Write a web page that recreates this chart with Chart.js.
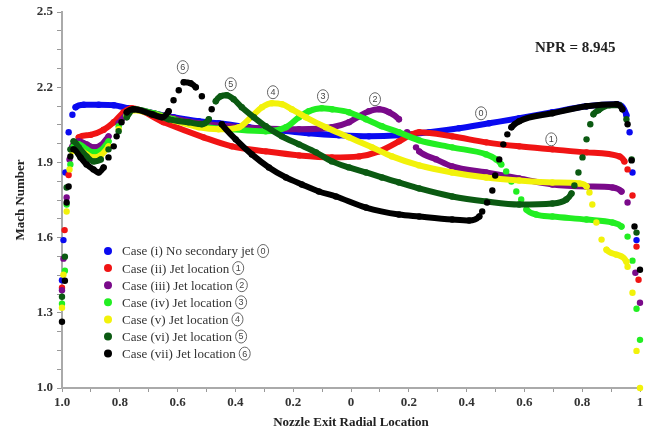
<!DOCTYPE html>
<html>
<head>
<meta charset="utf-8">
<script src="https://cdn.jsdelivr.net/npm/chart.js@4.4.0/dist/chart.umd.min.js"></script>
<style>
  html, body { margin: 0; padding: 0; background: #fff; }
  #wrap { position: relative; width: 651px; height: 430px; }
</style>
</head>
<body>
<div id="wrap"><canvas id="chart"></canvas></div>
<script>
// Series: [radial location, Mach number]
// left half of the nozzle is negative x, labelled by its absolute value
const caseI = [[-1.0,1.43],[-0.995,1.59],[-0.988,1.86],[-0.977,2.02],[-0.964,2.09],[-0.953,2.12],[-0.925,2.13],[-0.873,2.13],[-0.821,2.128],[-0.77,2.116],[-0.70,2.10],[-0.614,2.08],[-0.527,2.064],[-0.458,2.056],[-0.354,2.04],[-0.25,2.028],[-0.146,2.016],[-0.042,2.008],[0.062,2.004],[0.166,2.008],[0.27,2.02],[0.374,2.036],[0.478,2.056],[0.582,2.076],[0.697,2.10],[0.815,2.124],[0.919,2.132],[0.953,2.088],[0.964,2.02],[0.974,1.86],[0.988,1.59]];
const caseII = [[-1.0,1.40],[-0.991,1.63],[-0.977,1.85],[-0.96,1.97],[-0.942,2.0],[-0.901,2.01],[-0.856,2.03],[-0.821,2.06],[-0.787,2.10],[-0.759,2.116],[-0.648,2.06],[-0.51,2.0],[-0.412,1.964],[-0.295,1.944],[-0.18,1.928],[-0.066,1.92],[0.028,1.924],[0.097,1.944],[0.166,1.984],[0.211,2.012],[0.236,2.02],[0.35,2.004],[0.468,1.98],[0.582,1.964],[0.697,1.952],[0.815,1.94],[0.929,1.924],[0.946,1.904],[0.957,1.872],[0.974,1.768],[0.988,1.564],[0.995,1.432]];
const caseIII = [[-1.0,1.39],[-0.995,1.516],[-0.984,1.76],[-0.974,1.912],[-0.964,1.964],[-0.942,1.984],[-0.915,1.972],[-0.891,1.96],[-0.866,1.968],[-0.839,2.004],[-0.804,2.056],[-0.776,2.092],[-0.752,2.112],[-0.683,2.096],[-0.614,2.076],[-0.527,2.056],[-0.423,2.044],[-0.319,2.036],[-0.18,2.032],[-0.066,2.04],[-0.007,2.06],[0.028,2.084],[0.062,2.104],[0.097,2.112],[0.132,2.10],[0.166,2.072],[0.194,2.02],[0.225,1.96],[0.236,1.944],[0.295,1.912],[0.35,1.884],[0.468,1.86],[0.582,1.836],[0.697,1.812],[0.815,1.804],[0.905,1.80],[0.936,1.784],[0.957,1.74],[0.984,1.46],[1.0,1.34]];
const caseIV = [[-1.0,1.336],[-0.99,1.468],[-0.984,1.732],[-0.971,1.892],[-0.96,1.964],[-0.942,1.972],[-0.915,1.952],[-0.891,1.94],[-0.866,1.948],[-0.839,1.984],[-0.804,2.044],[-0.776,2.088],[-0.752,2.112],[-0.683,2.096],[-0.614,2.072],[-0.527,2.044],[-0.412,2.032],[-0.295,2.024],[-0.225,2.04],[-0.18,2.08],[-0.146,2.104],[-0.101,2.116],[-0.066,2.112],[-0.007,2.10],[0.052,2.072],[0.107,2.044],[0.166,2.02],[0.236,1.988],[0.35,1.96],[0.468,1.932],[0.503,1.912],[0.52,1.892],[0.537,1.864],[0.555,1.824],[0.572,1.784],[0.589,1.752],[0.607,1.712],[0.641,1.692],[0.697,1.684],[0.815,1.672],[0.905,1.66],[0.936,1.644],[0.957,1.604],[0.974,1.508],[0.988,1.316],[1.0,1.192]];
const caseV = [[-1.0,1.32],[-0.995,1.452],[-0.984,1.704],[-0.974,1.872],[-0.964,1.944],[-0.942,1.952],[-0.915,1.932],[-0.891,1.92],[-0.866,1.928],[-0.839,1.964],[-0.804,2.032],[-0.776,2.084],[-0.752,2.108],[-0.683,2.092],[-0.614,2.068],[-0.527,2.04],[-0.458,2.032],[-0.388,2.04],[-0.343,2.084],[-0.308,2.12],[-0.274,2.136],[-0.239,2.132],[-0.205,2.112],[-0.156,2.08],[-0.087,2.04],[-0.007,2.0],[0.073,1.96],[0.142,1.924],[0.236,1.888],[0.35,1.86],[0.468,1.84],[0.582,1.828],[0.697,1.82],[0.79,1.816],[0.815,1.804],[0.825,1.78],[0.835,1.732],[0.849,1.66],[0.867,1.592],[0.884,1.552],[0.919,1.532],[0.953,1.504],[0.957,1.484],[0.974,1.38],[0.988,1.148],[1.0,1.0]];
const caseVI = [[-1.0,1.364],[-0.99,1.524],[-0.984,1.80],[-0.971,1.952],[-0.96,1.984],[-0.942,1.96],[-0.915,1.924],[-0.891,1.904],[-0.866,1.912],[-0.839,1.952],[-0.804,2.024],[-0.776,2.08],[-0.752,2.112],[-0.683,2.092],[-0.631,2.072],[-0.562,2.06],[-0.516,2.052],[-0.492,2.072],[-0.468,2.144],[-0.451,2.164],[-0.43,2.168],[-0.406,2.152],[-0.378,2.12],[-0.336,2.08],[-0.295,2.044],[-0.239,2.004],[-0.18,1.972],[-0.121,1.94],[-0.066,1.904],[-0.007,1.88],[0.052,1.86],[0.107,1.84],[0.166,1.82],[0.236,1.796],[0.35,1.764],[0.468,1.744],[0.582,1.732],[0.697,1.736],[0.745,1.752],[0.763,1.776],[0.773,1.808],[0.787,1.86],[0.801,1.92],[0.815,1.992],[0.828,2.052],[0.839,2.092],[0.856,2.108],[0.894,2.128],[0.929,2.128],[0.953,2.072],[0.971,1.912],[0.988,1.62]];
const caseVII = [[-1.0,1.264],[-0.99,1.428],[-0.984,1.74],[-0.977,1.804],[-0.971,1.924],[-0.96,1.952],[-0.936,1.92],[-0.915,1.892],[-0.891,1.872],[-0.873,1.86],[-0.856,1.88],[-0.839,1.92],[-0.821,1.964],[-0.811,2.004],[-0.794,2.06],[-0.776,2.10],[-0.752,2.112],[-0.69,2.092],[-0.655,2.08],[-0.631,2.104],[-0.614,2.148],[-0.596,2.188],[-0.579,2.22],[-0.555,2.216],[-0.537,2.20],[-0.516,2.164],[-0.482,2.112],[-0.447,2.052],[-0.399,1.992],[-0.343,1.932],[-0.284,1.88],[-0.225,1.84],[-0.17,1.812],[-0.111,1.784],[-0.052,1.764],[0.052,1.72],[0.166,1.692],[0.236,1.684],[0.35,1.672],[0.409,1.668],[0.444,1.684],[0.454,1.704],[0.471,1.74],[0.489,1.788],[0.499,1.848],[0.513,1.912],[0.527,1.972],[0.541,2.012],[0.555,2.04],[0.582,2.064],[0.697,2.096],[0.815,2.124],[0.919,2.132],[0.939,2.112],[0.957,2.052],[0.971,1.908],[0.981,1.644],[1.0,1.472]];

const seriesData = [caseI, caseII, caseIII, caseIV, caseV, caseVI, caseVII];
const seriesLabels = ['Case (i) No secondary jet', 'Case (ii) Jet location', 'Case (iii) Jet location',
  'Case (iv) Jet location', 'Case (v) Jet location', 'Case (vi) Jet location', 'Case (vii) Jet location'];
const seriesMarks = ['0', '1', '2', '3', '4', '5', '6'];
const seriesColors = ['#0a0af0', '#f01414', '#7a0a8a', '#22ee22', '#f2f20a', '#0b5a12', '#000000'];

// circled jet-location markers next to the peaks: [mark, x, y]
const peakMarks = [['6', -0.582, 2.28], ['5', -0.416, 2.212], ['4', -0.27, 2.18], ['3', -0.097, 2.164],
  ['2', 0.083, 2.152], ['0', 0.45, 2.096], ['1', 0.693, 1.992]];
const nprText = 'NPR = 8.945';

const serif = '"Liberation Serif", "Times New Roman", serif';

function circled(ctx, n, cx, cy) {
  ctx.beginPath();
  ctx.ellipse(cx, cy, 5.5, 6.5, 0, 0, Math.PI * 2);
  ctx.strokeStyle = '#666';
  ctx.lineWidth = 1;
  ctx.stroke();
  ctx.font = '9px "Liberation Sans", sans-serif';
  ctx.fillStyle = '#444';
  ctx.textAlign = 'center';
  ctx.textBaseline = 'middle';
  ctx.fillText(n, cx, cy + 0.5);
}

// draws the peak markers, NPR note and the in-plot legend
const overlay = {
  id: 'overlay',
  afterDatasetsDraw(chart) {
    const { ctx, chartArea, scales: { x, y } } = chart;
    ctx.save();
    peakMarks.forEach(([n, xv, yv]) => circled(ctx, n, x.getPixelForValue(xv), y.getPixelForValue(yv)));

    ctx.font = 'bold 15px ' + serif;
    ctx.fillStyle = '#222';
    ctx.textAlign = 'center';
    ctx.textBaseline = 'middle';
    ctx.fillText(nprText, x.getPixelForValue(0.776), y.getPixelForValue(2.356));

    const lx = chartArea.left + 46;
    const ly = chartArea.top + 239;
    seriesLabels.forEach((label, i) => {
      const ry = ly + i * 17.1;
      ctx.beginPath();
      ctx.arc(lx, ry, 4, 0, Math.PI * 2);
      ctx.fillStyle = seriesColors[i];
      ctx.fill();
      ctx.font = '13px ' + serif;
      ctx.fillStyle = '#333';
      ctx.textAlign = 'left';
      ctx.textBaseline = 'middle';
      ctx.fillText(label, lx + 14, ry + 1);
      const w = ctx.measureText(label).width;
      circled(ctx, seriesMarks[i], lx + 14 + w + 9, ry);
    });
    ctx.restore();
  }
};

// hide the joining line where the dots are sparse (steep parts)
const steep = c => Math.abs(c.p1.y - c.p0.y) > 1.2 * Math.abs(c.p1.x - c.p0.x);

const tickFont = { family: serif, size: 13, weight: 'bold' };

new Chart(document.getElementById('chart'), {
  type: 'scatter',
  data: {
    datasets: seriesData.map((pts, i) => ({
      label: seriesLabels[i],
      data: pts.map(([x, y]) => ({ x, y })),
      showLine: true,
      cubicInterpolationMode: 'monotone',
      borderColor: seriesColors[i],
      backgroundColor: seriesColors[i],
      borderWidth: 6,
      borderCapStyle: 'round',
      borderJoinStyle: 'round',
      pointRadius: 3.2,
      pointBorderWidth: 0,
      pointHoverRadius: 3.2,
      order: seriesData.length - i,
      clip: false,
      segment: { borderColor: c => steep(c) ? 'transparent' : undefined }
    }))
  },
  options: {
    responsive: true,
    maintainAspectRatio: false,
    animation: false,
    events: [],
    layout: { padding: { top: 12, right: 11, left: 0, bottom: 0 } },
    plugins: {
      legend: { display: false },
      tooltip: { enabled: false }
    },
    scales: {
      x: {
        type: 'linear',
        min: -1,
        max: 1,
        ticks: {
          stepSize: 0.1,
          autoSkip: false,
          maxRotation: 0,
          padding: 3,
          color: '#333',
          font: tickFont,
          callback: v => {
            const k = Math.round(v * 10);
            if (k % 2 !== 0) return '';
            if (k === -10) return '1.0';
            if (k === 10) return '1';
            if (k === 0) return '0';
            return Math.abs(k / 10).toFixed(1);
          }
        },
        grid: { drawOnChartArea: false, tickLength: 4, color: '#999' },
        border: { color: '#aaa', width: 2 },
        title: { display: true, text: 'Nozzle Exit Radial Location', color: '#222', font: tickFont, padding: { top: 3, bottom: 0 } },
        afterFit: s => { s.height = 42; }
      },
      y: {
        min: 1,
        max: 2.5,
        ticks: {
          stepSize: 0.075,
          autoSkip: false,
          padding: 4,
          color: '#333',
          font: tickFont,
          callback: v => {
            const k = Math.round((v - 1) / 0.075);
            return k % 4 === 0 ? v.toFixed(1) : '';
          }
        },
        grid: { drawOnChartArea: false, tickLength: 5, color: '#999' },
        border: { color: '#aaa', width: 2 },
        title: { display: true, text: 'Mach Number', color: '#222', font: tickFont, padding: { top: 13, bottom: 0 } },
        afterFit: s => { s.width = 62; }
      }
    }
  },
  plugins: [overlay]
});
</script>
</body>
</html>
